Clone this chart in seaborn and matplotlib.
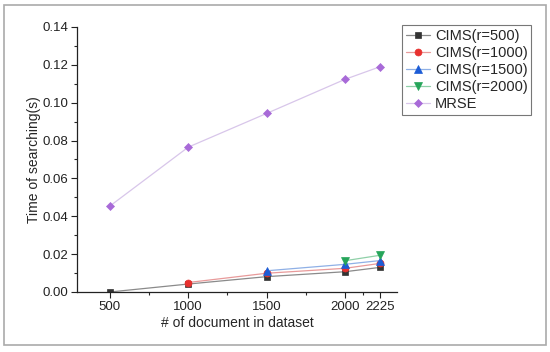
import matplotlib.pyplot as plt
import matplotlib.patches as mpatches
import numpy as np
import pandas as pd
import seaborn as sns

docs = [500, 1000, 1500, 2000, 2225]
cims_500 = [0.0, 0.0042, 0.0081, 0.0107, 0.0130]
cims_1000 = [np.nan, 0.0050, 0.0099, 0.0125, 0.0151]
cims_1500 = [np.nan, np.nan, 0.0112, 0.0146, 0.0166]
cims_2000 = [np.nan, np.nan, np.nan, 0.0165, 0.0194]
mrse = [0.0454, 0.0765, 0.0943, 0.1123, 0.1190]

series = {
    "CIMS(r=500)": cims_500,
    "CIMS(r=1000)": cims_1000,
    "CIMS(r=1500)": cims_1500,
    "CIMS(r=2000)": cims_2000,
    "MRSE": mrse,
}
marker_colors = ["#333333", "#e8302e", "#1c5cd6", "#26a55a", "#a86ad8"]
line_colors = ["#8a8a8a", "#e89a9a", "#8fb0e6", "#8fd0a8", "#d8c6ea"]
markers = ["s", "o", "^", "v", "D"]
sizes = [4.5, 5, 5.5, 5.5, 4.5]

sns.set_style("ticks")
plt.rcParams["font.family"] = ["Liberation Sans", "DejaVu Sans"]

fig = plt.figure(figsize=(5.5, 3.52), dpi=100)
ax = fig.add_axes([0.14, 0.1705, 0.582, 0.753])

for i, (name, vals) in enumerate(series.items()):
    df = pd.DataFrame({"x": docs, "y": vals}).dropna()
    sns.lineplot(data=df, x="x", y="y", ax=ax, color=line_colors[i], lw=0.9,
                 marker=markers[i], markersize=sizes[i], markerfacecolor=marker_colors[i],
                 markeredgecolor=marker_colors[i], markeredgewidth=0.5, label=name)

ax.set_xlim(290, 2333)
ax.set_ylim(0, 0.14)
ax.set_xticks(docs)
ax.set_xticks([750, 1250, 1750, 2112.5], minor=True)
ax.set_yticks(np.arange(0, 0.141, 0.02))
ax.set_yticks(np.arange(0.01, 0.14, 0.02), minor=True)
ax.yaxis.set_major_formatter(plt.FuncFormatter(lambda v, p: f"{v:.2f}"))
ax.tick_params(which="major", direction="out", length=4, width=0.8, labelsize=9.5,
               colors="#222222", pad=2.5)
ax.tick_params(which="minor", direction="out", length=2.5, width=0.8)
sns.despine(ax=ax)
for s in ["left", "bottom"]:
    ax.spines[s].set_linewidth(0.9)
    ax.spines[s].set_color("#222222")

ax.set_xlabel("# of document in dataset", fontsize=10, labelpad=2.5)
ax.set_ylabel("Time of searching(s)", fontsize=10, labelpad=0.5)

leg = ax.legend(loc="upper left", bbox_to_anchor=(402 / 550, 1 - 25 / 352),
                bbox_transform=fig.transFigure, frameon=True, fancybox=False,
                fontsize=10.5, handlelength=1.7, handletextpad=0.3,
                borderpad=0.25, labelspacing=0.22, borderaxespad=0)
leg.get_frame().set_edgecolor("#555555")
leg.get_frame().set_linewidth(0.8)

fig.patches.append(mpatches.Rectangle((4 / 550, 7 / 352), 542 / 550, 340 / 352,
                                      transform=fig.transFigure, fill=False,
                                      edgecolor="#aaaaaa", lw=1.2))

fig.savefig("out.png", dpi=100)
